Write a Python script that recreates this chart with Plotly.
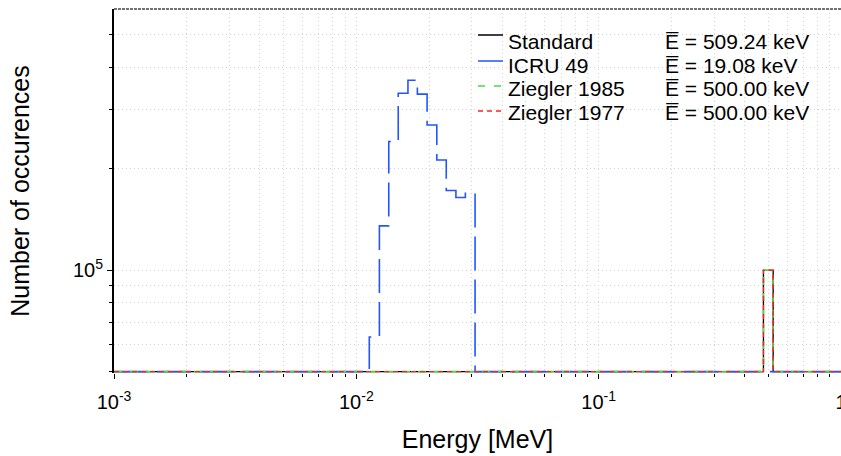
import numpy as np
import plotly.graph_objects as go

# ---------------- data ----------------
x_range_mev = [1e-3, 1.0]          # energy axis extent [MeV]
y_floor = 5e4                      # lower end of the count axis

# ICRU 49 histogram: bin edges [MeV] and counts
icru_edges = [0.01131, 0.01245, 0.01361, 0.01489, 0.01633, 0.01786,
              0.01959, 0.02148, 0.02350, 0.02576, 0.02818, 0.03090]
icru_counts = [63400, 135500, 241300, 335700, 366700, 333600,
               270200, 212500, 172500, 164500, 169300]

# 0.5 MeV peak bin shared by the other models
peak_edges = [0.4786, 0.5248]
standard_counts = [100000]
ziegler85_counts = [100000]
ziegler77_counts = [100000]

series_names = ["Standard", "ICRU 49", "Ziegler 1985", "Ziegler 1977"]
mean_energy_kev = ["509.24", "19.08", "500.00", "500.00"]

x_major = [1e-3, 1e-2, 1e-1, 1.0]
x_labels = ["10<sup>-3</sup>", "10<sup>-2</sup>", "10<sup>-1</sup>", "1"]
x_minor = [m * d for d in [1e-3, 1e-2, 1e-1] for m in range(2, 10)]
y_major = [1e5]
y_labels = ["10<sup>5</sup>"]
y_minor = [5e4, 6e4, 7e4, 8e4, 9e4, 2e5, 3e5, 4e5, 5e5]

# ---------------- helpers ----------------
def hist_xy(edges, counts):
    x = [x_range_mev[0]] + list(edges) + [x_range_mev[1]]
    y = [0] + list(counts) + [0, 0]
    y = np.where(np.array(y) <= 0, y_floor, y)   # empty bins drawn at the axis floor
    return x, y

styles = [
    dict(color="#000000", width=1.3, dash="solid"),
    dict(color="#2255ff", width=1.6, dash="34px,9px"),
    dict(color="#44dd44", width=1.6, dash="8px,8px"),
    dict(color="#ff2020", width=1.4, dash="5px,4px"),
]
legend_dash = ["solid", "solid", "7px,9px", "5px,4px"]
data_sets = [(peak_edges, standard_counts), (icru_edges, icru_counts),
             (peak_edges, ziegler85_counts), (peak_edges, ziegler77_counts)]

fig = go.Figure()
for name, (ed, ct), st in zip(series_names, data_sets, styles):
    x, y = hist_xy(ed, ct)
    fig.add_trace(go.Scatter(x=x, y=y, mode="lines", name=name,
                             line=dict(shape="hv", **st)))

FONT = "Liberation Sans, Arial, Helvetica, sans-serif"
grid_col = "#d4d4d4"
GRID_DASH = "1px,3px"

L, T, W, H = 114, 9, 727, 364
fig.update_layout(
    width=841, height=456,
    margin=dict(l=L, r=841 - L - W, t=T, b=456 - T - H),
    paper_bgcolor="white", plot_bgcolor="white",
    font=dict(family=FONT, color="black", size=20),
    showlegend=False,
    xaxis=dict(type="log", range=[np.log10(x_range_mev[0]), np.log10(x_range_mev[1])],
               automargin=False,
               tickmode="array", tickvals=x_major, ticktext=x_labels,
               ticks="outside", ticklen=5, tickwidth=1, tickcolor="black",
               ticklabeloverflow="allow", ticklabelstandoff=6,
               showgrid=True, gridcolor=grid_col, griddash=GRID_DASH, gridwidth=1,
               showline=False, zeroline=False,
               tickfont=dict(size=20),
               minor=dict(tickvals=x_minor, ticks="outside", ticklen=3,
                          tickcolor="black", showgrid=True, gridcolor=grid_col,
                          griddash=GRID_DASH, gridwidth=1),
               title=dict(text="Energy [MeV]", font=dict(size=25), standoff=18)),
    yaxis=dict(type="log", range=[np.log10(y_floor) - 0.004, 5.776],
               automargin=False,
               tickmode="array", tickvals=y_major, ticktext=y_labels,
               ticks="outside", ticklen=5, tickwidth=1, tickcolor="black",
               showgrid=True, gridcolor=grid_col, griddash=GRID_DASH, gridwidth=1,
               showline=True, linecolor="black", linewidth=2, zeroline=False,
               tickfont=dict(size=20),
               minor=dict(tickvals=y_minor, ticks="outside", ticklen=3,
                          tickcolor="black", showgrid=True, gridcolor=grid_col,
                          griddash=GRID_DASH, gridwidth=1),
               title=dict(text="Number of occurences", font=dict(size=25), standoff=36)),
)

def px_x(px):
    return (px - L) / W

def px_y(py):
    return 1 - (py - T) / H

# frame top edge
fig.add_shape(type="line", xref="paper", yref="paper", x0=0, x1=1, y0=1, y1=1,
              line=dict(color="#444444", width=1.5, dash="3px,1px"))

# legend: sample line, name and mean energy on each row
row_text_y = [41, 65, 88, 112]
row_line_y = [35, 61, 86, 111]
for i, name in enumerate(series_names):
    st = styles[i]
    fig.add_shape(type="line", xref="paper", yref="paper",
                  x0=px_x(478), x1=px_x(503), y0=px_y(row_line_y[i]), y1=px_y(row_line_y[i]),
                  line=dict(color=st["color"], width=1.5, dash=legend_dash[i]))
    fig.add_annotation(xref="paper", yref="paper", x=px_x(506), y=px_y(row_text_y[i]),
                       xanchor="left", yanchor="middle", showarrow=False,
                       text=name, font=dict(size=21, family=FONT))
    fig.add_annotation(xref="paper", yref="paper", x=px_x(663), y=px_y(row_text_y[i]),
                       xanchor="left", yanchor="middle", showarrow=False,
                       text="E\u0305 = " + mean_energy_kev[i] + " keV",
                       font=dict(size=21, family=FONT))

fig.write_html("out.html", config={"displayModeBar": False},
               post_script="document.body.style.margin='0';document.body.style.overflow='hidden';")
